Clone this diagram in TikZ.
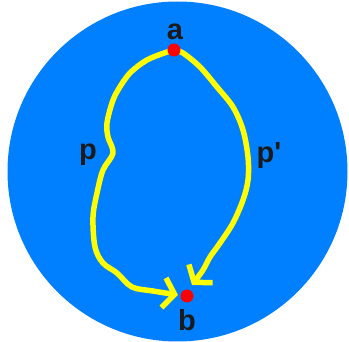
\documentclass[tikz,border=0pt]{standalone}
\usepackage{fontspec}
\setmainfont{Liberation Sans}
\usepackage{tikz}
\usetikzlibrary{arrows.meta,positioning,calc}
\definecolor{discblue}{RGB}{0,128,255}
\definecolor{pathyellow}{RGB}{255,255,0}
\definecolor{dotred}{RGB}{255,0,0}
\definecolor{labelink}{RGB}{26,26,26}
\tikzset{
  %% the disc
  discfill/.style={fill=discblue, draw=none},
  %% end points
  ptdot/.style={circle, fill=dotred, draw=none, minimum size=13pt, inner sep=0pt},
  ptlabel/.style={font=\fontsize{29}{32}\selectfont\bfseries, text=labelink, inner sep=0pt},
  %% hand drawn paths
  pathline/.style={draw=pathyellow, line width=5.5pt, line cap=round, line join=round,
    -{Straight Barb[length=11pt, width=30pt]}},
}

\begin{document}
\begin{tikzpicture}[x=1pt, y=-1pt]
\useasboundingbox (0,0) rectangle (349,342);
\fill[white] (0,0) rectangle (349,342);
\node[discfill, circle, minimum size=340pt, inner sep=0pt] (disc) at (177.5,171.5) {};

\coordinate (a) at (174,50);
\coordinate (b) at (187,296);
\coordinate (pend)  at (178,295);
\coordinate (ppend) at (192,285);

% left path p
\draw[pathline] plot[smooth, tension=0.55] coordinates {
  (a) (167,52) (147,60) (130,73) (118,90) (112,103) (107,123) (108,137)
  (113,153) (103,170) (97,193) (93,217) (95,247) (103,263) (117,273)
  (132,287) (153,291) (pend)};
% right path p'
\draw[pathline] plot[smooth, tension=0.55] coordinates {
  (a) (183,53) (200,67) (217,87) (233,107) (243,130) (248,157) (248,180)
  (243,200) (233,223) (220,243) (210,257) (203,270) (ppend)};

\node[ptdot] (adot) at (a) {};
\node[ptdot] (bdot) at (b) {};
\node[ptlabel] (alabel) at (175,32) {a};
\node[ptlabel] (blabel) at (187,320) {b};
\node[ptlabel] (plabel) at (88,155) {p};
\node[ptlabel] (pplabel) at (269,156) {p\textquotesingle};

\end{tikzpicture}
\end{document}
